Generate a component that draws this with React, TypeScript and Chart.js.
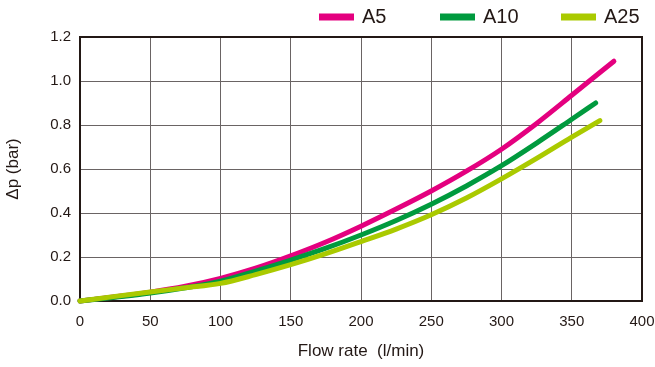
import React, { useEffect, useRef } from "react";
import { Chart, registerables } from "chart.js";

Chart.register(...registerables);

const seriesLabels = ["A5", "A10", "A25"];
const seriesColors = ["#E4007F", "#009A3E", "#AACA00"];

const flowA5 = [0, 25, 50, 75, 100, 125, 150, 175, 200, 225, 250, 275, 300, 325, 350, 380];
const dpA5 = [0, 0.019, 0.04, 0.067, 0.103, 0.149, 0.205, 0.268, 0.34, 0.418, 0.5, 0.59, 0.69, 0.807, 0.935, 1.09];

const flowA10 = [0, 25, 50, 75, 100, 125, 150, 175, 200, 225, 250, 275, 300, 325, 350, 367];
const dpA10 = [0, 0.017, 0.036, 0.06, 0.09, 0.136, 0.186, 0.24, 0.3, 0.366, 0.44, 0.523, 0.615, 0.718, 0.826, 0.9];

const flowA25 = [0, 25, 50, 75, 100, 125, 150, 175, 200, 225, 250, 275, 300, 325, 350, 370];
const dpA25 = [0, 0.021, 0.041, 0.06, 0.08, 0.12, 0.165, 0.215, 0.27, 0.327, 0.392, 0.468, 0.555, 0.648, 0.745, 0.82];

const xTitle = "Flow rate  (l/min)";
const yTitle = "Δp (bar)";

const FONT = "'Liberation Sans', Arial, Helvetica, sans-serif";
const TEXT = "#231815";

const toPoints = (xs: number[], ys: number[]) => xs.map((x, i) => ({ x, y: ys[i] }));

const framePlugin = {
  id: "frame",
  beforeDatasetsDraw(chart: any) {
    const { ctx, chartArea } = chart;
    ctx.save();
    ctx.strokeStyle = TEXT;
    ctx.lineWidth = 2;
    ctx.strokeRect(chartArea.left, chartArea.top, chartArea.right - chartArea.left, chartArea.bottom - chartArea.top);
    ctx.restore();
  },
};

const legendPlugin = {
  id: "customLegend",
  afterDraw(chart: any) {
    const { ctx, chartArea } = chart;
    ctx.save();
    const startX = chartArea.right - 323;
    const pitch = 121;
    const y = 17;
    chart.data.datasets.forEach((ds: any, i: number) => {
      const x0 = startX + i * pitch;
      ctx.strokeStyle = ds.borderColor;
      ctx.lineWidth = 7;
      ctx.lineCap = "butt";
      ctx.beginPath();
      ctx.moveTo(x0, y);
      ctx.lineTo(x0 + 35, y);
      ctx.stroke();
      ctx.fillStyle = TEXT;
      ctx.font = `20px ${FONT}`;
      ctx.textBaseline = "middle";
      ctx.textAlign = "left";
      ctx.fillText(ds.label, x0 + 43, y + 0.5);
    });
    ctx.restore();
  },
};

export default function App() {
  const ref = useRef<HTMLCanvasElement | null>(null);

  useEffect(() => {
    if (!ref.current) return;
    const series = [
      toPoints(flowA5, dpA5),
      toPoints(flowA10, dpA10),
      toPoints(flowA25, dpA25),
    ];
    const chart = new Chart(ref.current, {
      type: "line",
      data: {
        datasets: series.map((d, i) => ({
          label: seriesLabels[i],
          data: d,
          borderColor: seriesColors[i],
          backgroundColor: seriesColors[i],
          borderWidth: 5,
          borderCapStyle: "round",
          borderJoinStyle: "round",
          pointRadius: 0,
          cubicInterpolationMode: "monotone",
          fill: false,
          clip: false,
          order: 3 - i,
        })),
      } as any,
      options: {
        animation: false,
        responsive: false,
        maintainAspectRatio: false,
        layout: { padding: { top: 37, right: 0, left: 0, bottom: 0 } },
        plugins: {
          legend: { display: false },
          tooltip: { enabled: false },
        },
        scales: {
          x: {
            type: "linear",
            min: 0,
            max: 400,
            afterFit: (s: any) => { s.height = 66; s.paddingRight = 13; },
            ticks: {
              stepSize: 50,
              color: TEXT,
              padding: 12,
              font: { family: FONT, size: 15 },
              maxRotation: 0,
            },
            grid: { color: "#6a6464", lineWidth: 1, drawTicks: false },
            border: { display: false },
            title: {
              display: true,
              text: xTitle,
              color: TEXT,
              font: { family: FONT, size: 17 },
              padding: { top: 0, bottom: 5 },
            },
          },
          y: {
            type: "linear",
            min: 0,
            max: 1.2,
            afterFit: (s: any) => { s.width = 80; },
            ticks: {
              stepSize: 0.2,
              color: TEXT,
              padding: 9,
              font: { family: FONT, size: 15 },
              callback: (v: any) => Number(v).toFixed(1),
            },
            grid: { color: "#6a6464", lineWidth: 1, drawTicks: false },
            border: { display: false },
            title: {
              display: true,
              text: yTitle,
              color: TEXT,
              font: { family: FONT, size: 17 },
              padding: { top: 3, bottom: 0 },
            },
          },
        },
      } as any,
      plugins: [framePlugin, legendPlugin],
    });
    return () => chart.destroy();
  }, []);

  return (
    <div style={{ position: "absolute", left: 0, top: 0, width: 655, height: 367, background: "#fff" }}>
      <canvas ref={ref} width={655} height={367} style={{ display: "block", width: 655, height: 367 }} />
    </div>
  );
}
